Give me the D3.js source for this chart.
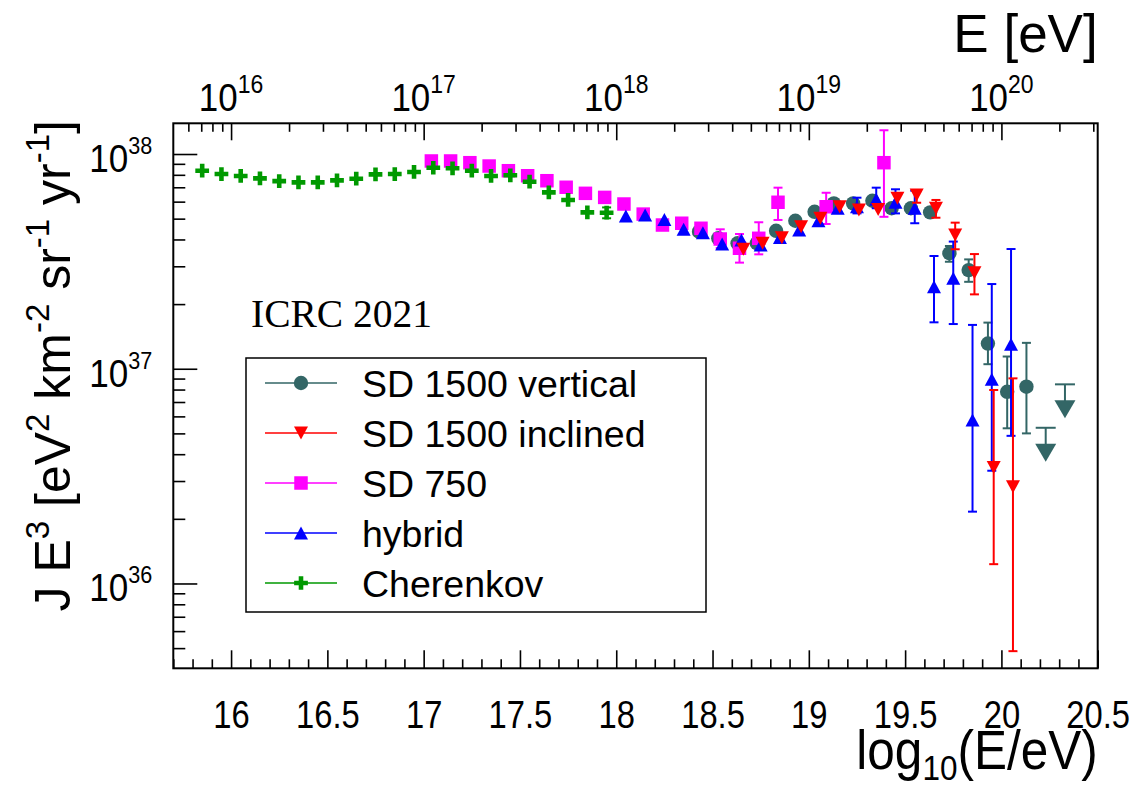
<!DOCTYPE html>
<html><head><meta charset="utf-8">
<script src="https://cdn.jsdelivr.net/npm/d3@7"></script>
<style>
body{margin:0;background:#fff}
svg{display:block}
text{font-family:"Liberation Sans",Arial,Helvetica,sans-serif;fill:#000}
</style>
</head><body>
<svg id="c" width="1137" height="791"></svg>
<script>
// ---------------- data ----------------
// SD 1500 vertical
const vertLogE = [18.43,18.53,18.63,18.73,18.83,18.93,19.03,19.13,19.23,19.33,19.43,19.53,19.63,19.73,19.83,19.93,20.03,20.13];
const vertJ    = [4.35e37,4.05e37,3.84e37,3.84e37,4.39e37,4.89e37,5.38e37,5.89e37,5.89e37,6.06e37,5.59e37,5.59e37,5.35e37,3.45e37,2.88e37,1.31e37,7.81e36,8.25e36];
const vertErrLo= [null,null,null,null,null,null,null,null,null,null,null,null,null,3.15e37,2.54e37,1.05e37,5.28e36,5.0e36];
const vertErrHi= [null,null,null,null,null,null,null,null,null,null,null,null,null,3.73e37,3.23e37,1.64e37,1.14e37,1.32e37];
const vertLimLogE = [20.23,20.33];
const vertLimJ    = [5.31e36,8.46e36];
// SD 1500 inclined
const inclLogE = [18.66,18.76,18.86,18.96,19.06,19.16,19.26,19.36,19.46,19.56,19.66,19.76,19.86,19.96,20.06];
const inclJ    = [3.60e37,3.84e37,4.07e37,4.59e37,5.02e37,5.68e37,5.48e37,5.52e37,6.22e37,6.44e37,5.59e37,4.20e37,2.80e37,3.47e36,2.82e36];
const inclErrLo= [null,null,null,null,null,null,null,null,null,5.93e37,5.05e37,3.60e37,2.22e37,1.23e36,4.84e35];
const inclErrHi= [null,null,null,null,null,null,null,null,null,6.80e37,6.11e37,4.79e37,3.42e37,7.96e36,9.02e36];
// SD 750
const sd750LogE = [17.04,17.14,17.24,17.34,17.44,17.54,17.64,17.74,17.84,17.94,18.04,18.14,18.24,18.34,18.44,18.54,18.64,18.74,18.84,19.09,19.39];
const sd750J    = [9.28e37,9.28e37,9.11e37,8.79e37,8.36e37,7.92e37,7.51e37,7.00e37,6.56e37,6.28e37,5.85e37,5.25e37,4.67e37,4.76e37,4.51e37,4.02e37,3.64e37,4.05e37,5.96e37,5.68e37,9.11e37];
const sd750ErrLo= [null,null,null,null,null,null,null,null,null,null,null,null,null,null,null,3.65e37,3.12e37,3.41e37,4.93e37,4.72e37,5.10e37];
const sd750ErrHi= [null,null,null,null,null,null,null,null,null,null,null,null,null,null,null,4.46e37,4.24e37,4.81e37,6.97e37,6.60e37,1.29e38];
// hybrid
const hybLogE = [18.05,18.15,18.25,18.35,18.45,18.55,18.65,18.75,18.85,18.95,19.05,19.15,19.25,19.35,19.45,19.55,19.65,19.75,19.85,19.95,20.05];
const hybJ    = [5.14e37,5.20e37,4.96e37,4.46e37,4.30e37,3.81e37,3.98e37,3.77e37,4.09e37,4.43e37,4.89e37,5.59e37,5.68e37,6.15e37,5.96e37,5.59e37,2.41e37,2.64e37,5.77e36,8.93e36,1.30e37];
const hybErrLo= [null,null,null,null,null,null,null,null,null,null,null,null,5.29e37,5.59e37,5.29e37,4.76e37,1.645e37,1.615e37,2.16e36,3.35e36,4.87e36];
const hybErrHi= [null,null,null,null,null,null,null,null,null,null,null,null,6.26e37,6.97e37,6.85e37,6.75e37,3.35e37,3.91e37,1.60e37,2.48e37,3.61e37];
// Cherenkov
const cherLogE = [15.85,15.95,16.05,16.15,16.25,16.35,16.45,16.55,16.65,16.75,16.85,16.95,17.05,17.15,17.25,17.35,17.45,17.55,17.65,17.75,17.85,17.95];
const cherJ    = [8.36e37,8.07e37,7.90e37,7.70e37,7.48e37,7.38e37,7.38e37,7.54e37,7.67e37,8.04e37,8.07e37,8.25e37,8.63e37,8.58e37,8.36e37,7.90e37,7.96e37,7.43e37,6.63e37,6.11e37,5.35e37,5.33e37];
const cherErrLo= [null,null,null,null,null,null,null,null,null,null,null,null,null,null,null,null,null,null,null,null,null,5.02e37];
const cherErrHi= [null,null,null,null,null,null,null,null,null,null,null,null,null,null,null,null,null,null,null,null,null,5.64e37];

const seriesNames = ["SD 1500 vertical","SD 1500 inclined","SD 750","hybrid","Cherenkov"];
const seriesColors = ["#336666","#ff0000","#ff00ff","#0000ff","#009900"];
const seriesMarkers = ["circle","triDown","square","triUp","cross"];

const xMajorTicks = [16,16.5,17,17.5,18,18.5,19,19.5,20,20.5];
const topDecades = [16,17,18,19,20];
const yDecades = [36,37,38];

// ---------------- layout ----------------
const L = 173.3, R = 1097.7, T = 123.3, B = 668.3;
const x = d3.scaleLinear().domain([15.7, 20.5]).range([L, R]);
const y = d3.scaleLog().domain([4.027e35, 1.39e38]).range([B, T]);

const svg = d3.select("#c");

function markerPath(type){
  if(type==="circle") return d3.symbol(d3.symbolCircle, Math.PI*7.2*7.2)();
  if(type==="square") return d3.symbol(d3.symbolSquare, 13.5*13.5)();
  if(type==="cross") return d3.symbol(d3.symbolCross, 105)();
  const w=14, h=13;
  if(type==="triUp") return `M0,${-h/2}L${w/2},${h/2}L${-w/2},${h/2}Z`;
  if(type==="triDown") return `M0,${h/2}L${w/2},${-h/2}L${-w/2},${-h/2}Z`;
}

// ---------------- axes ----------------
const axG = svg.append("g");
const minorX = d3.range(157,206).map(v=>v/10).filter(v=>v>=15.7 && v<=20.5 && Math.abs(v*2-Math.round(v*2))>1e-6);
axG.append("g").attr("transform",`translate(0,${B})`)
  .call(d3.axisBottom(x).tickValues(minorX).tickSize(-9).tickFormat(""));
const xMaj = axG.append("g").attr("transform",`translate(0,${B})`)
  .call(d3.axisBottom(x).tickValues(xMajorTicks).tickSize(-18).tickPadding(32).tickFormat(d=>String(+d.toFixed(1))));
xMaj.selectAll("text").attr("font-size",39).attr("transform","scale(0.84,1)")
  .attr("font-family","Liberation Sans, Arial, sans-serif");

// top axis (E [eV])
const minorTop = [];
for(let n=15;n<=20;n++) for(let k=2;k<=9;k++){ const v=n+Math.log10(k); if(v>=15.7 && v<=20.5) minorTop.push(v); }
axG.append("g").attr("transform",`translate(0,${T})`)
  .call(d3.axisTop(x).tickValues(minorTop).tickSize(-8.5).tickFormat(""));
axG.append("g").attr("transform",`translate(0,${T})`)
  .call(d3.axisTop(x).tickValues(topDecades).tickSize(-17).tickFormat(""));

// left axis
const minorY = [];
for(let n=35;n<=38;n++) for(let k=2;k<=9;k++){ const v=k*Math.pow(10,n); if(v>=4.027e35 && v<=1.39e38) minorY.push(v); }
axG.append("g").attr("transform",`translate(${L},0)`)
  .call(d3.axisLeft(y).tickValues(minorY).tickSize(-12).tickFormat(""));
axG.append("g").attr("transform",`translate(${L},0)`)
  .call(d3.axisLeft(y).tickValues(yDecades.map(n=>Math.pow(10,n))).tickSize(-24).tickFormat(""));

axG.selectAll(".domain").remove();
axG.selectAll("line").attr("stroke","#000").attr("stroke-width",1.6);

svg.append("rect").attr("x",L).attr("y",T).attr("width",R-L).attr("height",B-T)
  .attr("fill","none").attr("stroke","#000").attr("stroke-width",2);

// y tick labels
yDecades.forEach(n=>{
  const t = svg.append("text").attr("transform",`translate(${L-21},${y(Math.pow(10,n))+18}) scale(0.9,1)`)
    .attr("text-anchor","end").attr("font-size",39);
  t.append("tspan").text("10");
  t.append("tspan").attr("font-size",24).attr("dy",-18).text(String(n));
});
// top tick labels
topDecades.forEach(n=>{
  const t = svg.append("text").attr("transform",`translate(${x(n)},111) scale(0.92,1)`)
    .attr("text-anchor","middle").attr("font-size",38);
  t.append("tspan").text("10");
  t.append("tspan").attr("font-size",25).attr("dy",-18).text(String(n));
});

// axis titles
svg.append("text").attr("transform",`translate(${R},52)`).attr("text-anchor","end").attr("font-size",53).text("E [eV]");
{
  const t = svg.append("text").attr("transform",`translate(${R},769) scale(0.9,1)`).attr("text-anchor","end").attr("font-size",55);
  t.append("tspan").text("log");
  t.append("tspan").attr("font-size",35).attr("dy",11).text("10");
  t.append("tspan").attr("dy",-11).text("(E/eV)");
}
{
  const t = svg.append("text").attr("transform",`translate(70,120) rotate(-90)`).attr("text-anchor","end").attr("font-size",50);
  const parts = [["J E",0],["3",1],[" [eV",0],["2",1],[" km",0],["-2",1],[" sr",0],["-1",1],[" yr",0],["-1",1],["]",0]];
  let prevSup=false;
  parts.forEach(([s,sup])=>{
    const ts=t.append("tspan").text(s);
    if(sup){ ts.attr("font-size",33).attr("dy",-21); prevSup=true; }
    else if(prevSup){ ts.attr("dy",21); prevSup=false; }
  });
}

// ICRC label
svg.append("text").attr("x",251).attr("y",327).attr("font-size",39.5)
  .style("font-family","'Liberation Serif','Times New Roman',serif").text("ICRC 2021");

// ---------------- data marks ----------------
const plot = svg.append("g");
function drawSeries(logE, J, lo, hi, idx){
  const col = seriesColors[idx];
  const g = plot.append("g");
  const data = logE.map((e,i)=>({e, j:J[i], lo:lo[i], hi:hi[i]}));
  const ed = data.filter(d=>d.lo!=null);
  g.selectAll("line.eb").data(ed).join("line").attr("class","eb")
    .attr("x1",d=>x(d.e)).attr("x2",d=>x(d.e)).attr("y1",d=>y(d.lo)).attr("y2",d=>y(d.hi))
    .attr("stroke",col).attr("stroke-width",2);
  ["lo","hi"].forEach(k=>{
    g.selectAll("line.cap"+k).data(ed).join("line").attr("class","cap"+k)
      .attr("x1",d=>x(d.e)-4.5).attr("x2",d=>x(d.e)+4.5).attr("y1",d=>y(d[k])).attr("y2",d=>y(d[k]))
      .attr("stroke",col).attr("stroke-width",2);
  });
  g.selectAll("path.m").data(data).join("path").attr("class","m")
    .attr("transform",d=>`translate(${x(d.e)},${y(d.j)})`)
    .attr("d",markerPath(seriesMarkers[idx])).attr("fill",col);
}
drawSeries(vertLogE, vertJ, vertErrLo, vertErrHi, 0);
drawSeries(sd750LogE, sd750J, sd750ErrLo, sd750ErrHi, 2);
drawSeries(hybLogE, hybJ, hybErrLo, hybErrHi, 3);
drawSeries(inclLogE, inclJ, inclErrLo, inclErrHi, 1);
drawSeries(cherLogE, cherJ, cherErrLo, cherErrHi, 4);

// upper limits
{
  const col = seriesColors[0];
  const lim = vertLimLogE.map((e,i)=>({e, j:vertLimJ[i]}));
  const g = plot.append("g");
  g.selectAll("line.bar").data(lim).join("line")
    .attr("x1",d=>x(d.e)-10).attr("x2",d=>x(d.e)+10).attr("y1",d=>y(d.j)).attr("y2",d=>y(d.j))
    .attr("stroke",col).attr("stroke-width",2);
  g.selectAll("line.stem").data(lim).join("line")
    .attr("x1",d=>x(d.e)).attr("x2",d=>x(d.e)).attr("y1",d=>y(d.j)).attr("y2",d=>y(d.j)+18)
    .attr("stroke",col).attr("stroke-width",2);
  g.selectAll("path").data(lim).join("path")
    .attr("d",d=>{const cx=x(d.e), cy=y(d.j); return `M${cx-10.5},${cy+16}L${cx+10.5},${cy+16}L${cx},${cy+34}Z`;})
    .attr("fill",col);
}

// ---------------- legend ----------------
const lg = svg.append("g");
lg.append("rect").attr("x",246).attr("y",358).attr("width",460).attr("height",254)
  .attr("fill","#fff").attr("stroke","#000").attr("stroke-width",1.5);
seriesNames.forEach((name,i)=>{
  const cy = 383 + i*50;
  lg.append("line").attr("x1",265).attr("x2",337).attr("y1",cy).attr("y2",cy)
    .attr("stroke",seriesColors[i]).attr("stroke-width",1.5);
  lg.append("path").attr("transform",`translate(301,${cy})`).attr("d",markerPath(seriesMarkers[i])).attr("fill",seriesColors[i]);
  lg.append("text").attr("x",362).attr("y",cy+13.5).attr("font-size",37.5).text(name);
});
</script>
</body></html>
